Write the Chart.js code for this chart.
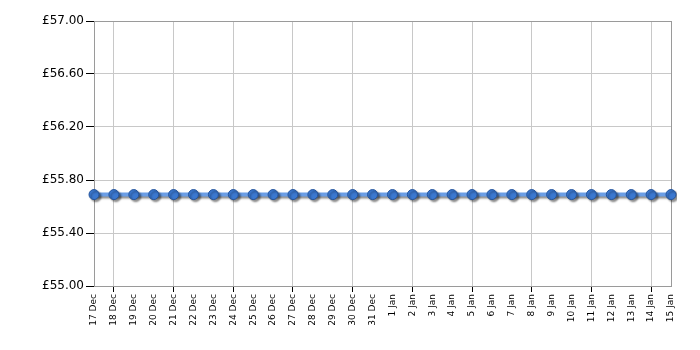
<!DOCTYPE html>
<html>
<head>
<meta charset="utf-8">
<script src="https://cdn.jsdelivr.net/npm/chart.js@4/dist/chart.umd.min.js"></script>
<style>
  html, body { margin: 0; padding: 0; background: #fff; }
  #wrap { width: 700px; height: 350px; }
</style>
</head>
<body>
<div id="wrap"><canvas id="price-chart"></canvas></div>
<script>
const days = ['17 Dec','18 Dec','19 Dec','20 Dec','21 Dec','22 Dec','23 Dec','24 Dec','25 Dec','26 Dec',
  '27 Dec','28 Dec','29 Dec','30 Dec','31 Dec','1 Jan','2 Jan','3 Jan','4 Jan','5 Jan',
  '6 Jan','7 Jan','8 Jan','9 Jan','10 Jan','11 Jan','12 Jan','13 Jan','14 Jan','15 Jan'];
const prices = [55.69,55.69,55.69,55.69,55.69,55.69,55.69,55.69,55.69,55.69,
  55.69,55.69,55.69,55.69,55.69,55.69,55.69,55.69,55.69,55.69,
  55.69,55.69,55.69,55.69,55.69,55.69,55.69,55.69,55.69,55.69];
const yMin = 55.0;
const yMax = 57.0;
const yStep = 0.4;

// drop shadow under line + markers
const shadowPlugin = {
  id: 'shadow',
  beforeDatasetsDraw(chart) {
    const c = chart.ctx;
    c.save();
    c.shadowColor = 'rgba(0,0,0,0.45)';
    c.shadowBlur = 2;
    c.shadowOffsetX = 2;
    c.shadowOffsetY = 2;
  },
  afterDatasetsDraw(chart) {
    chart.ctx.restore();
  }
};

// grey frame round the plot area
const framePlugin = {
  id: 'frame',
  beforeDatasetsDraw(chart) {
    const a = chart.chartArea;
    const c = chart.ctx;
    c.save();
    c.strokeStyle = '#9a9a9a';
    c.lineWidth = 1;
    c.strokeRect(Math.round(a.left) + 0.5, Math.round(a.top) + 0.5, Math.round(a.right - a.left), Math.round(a.bottom - a.top));
    c.restore();
  }
};

new Chart(document.getElementById('price-chart'), {
  type: 'line',
  data: {
    labels: days,
    datasets: [{
      data: prices,
      borderColor: '#6b9ee6',
      borderWidth: 4,
      pointRadius: 5,
      pointHoverRadius: 5,
      pointBackgroundColor: '#3b78d0',
      pointBorderColor: '#24549c',
      pointBorderWidth: 1,
      tension: 0
    }]
  },
  options: {
    responsive: true,
    maintainAspectRatio: false,
    animation: false,
    layout: { padding: { top: 21, right: 29, left: 0, bottom: 0 } },
    plugins: { legend: { display: false }, tooltip: { enabled: false } },
    scales: {
      x: {
        offset: false,
        border: { color: '#9a9a9a' },
        grid: {
          color: ctx => (ctx.index % 3 === 1 ? '#c8c8c8' : 'rgba(0,0,0,0)'),
          tickColor: ctx => (ctx.index % 3 === 1 ? '#000' : 'rgba(0,0,0,0)'),
          tickLength: 6
        },
        ticks: {
          autoSkip: false,
          minRotation: 90,
          maxRotation: 90,
          padding: 2,
          color: '#000',
          font: { family: 'DejaVu Sans', size: 9 }
        },
        afterFit(axis) { axis.height = 64; }
      },
      y: {
        min: yMin,
        max: yMax,
        border: { color: '#9a9a9a' },
        grid: { color: '#c8c8c8', tickColor: '#000', tickLength: 8 },
        ticks: {
          stepSize: yStep,
          padding: 2,
          color: '#000',
          font: { family: 'DejaVu Sans', size: 12 },
          callback: v => '£' + Number(v).toFixed(2)
        },
        afterFit(axis) { axis.width = 94; }
      }
    }
  },
  plugins: [framePlugin, shadowPlugin]
});
</script>
</body>
</html>
